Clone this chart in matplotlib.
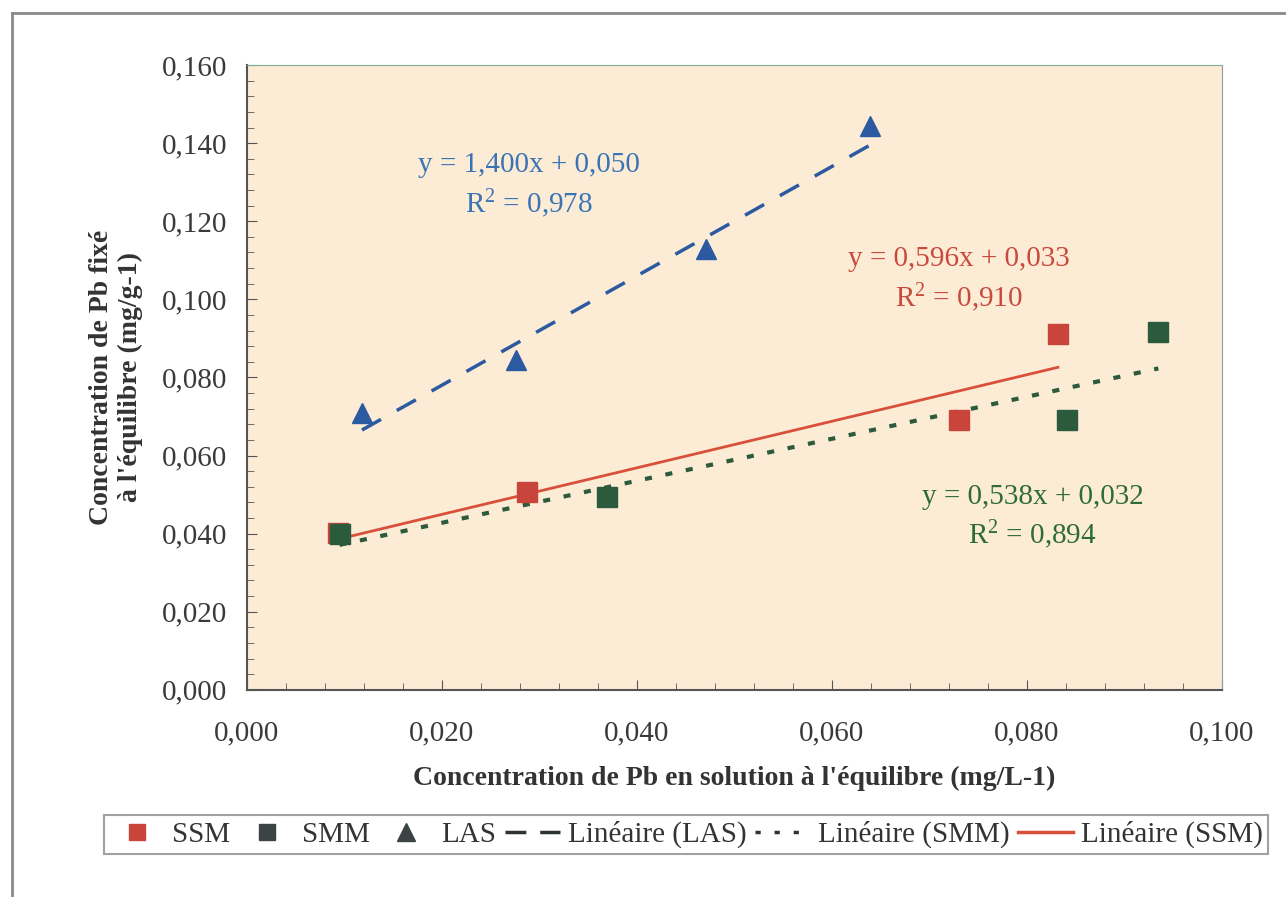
#!/usr/bin/env python
# Pb adsorption isotherms with linear trendlines
import numpy as np
import matplotlib.pyplot as plt
from matplotlib.lines import Line2D
from matplotlib.ticker import MultipleLocator, FuncFormatter

plt.rcParams['font.family'] = ['Liberation Serif', 'DejaVu Serif']
plt.rcParams['mathtext.fontset'] = 'custom'
plt.rcParams['mathtext.rm'] = 'Liberation Serif'
plt.rcParams['mathtext.it'] = 'Liberation Serif'

# data
ssm_x = [0.0093, 0.0287, 0.0730, 0.0832]
ssm_y = [0.0402, 0.0506, 0.0692, 0.0912]
smm_x = [0.0095, 0.0369, 0.0841, 0.0935]
smm_y = [0.0398, 0.0494, 0.0692, 0.0916]
las_x = [0.0118, 0.0276, 0.0471, 0.0639]
las_y = [0.0708, 0.0845, 0.1130, 0.1445]

# trendline coefficients (slope, intercept) as printed
ssm_fit = (0.596, 0.033)
smm_fit = (0.538, 0.032)
las_fit = (1.400, 0.050)

red = '#C9443A'
green = '#2B5A3C'
blue = '#2C5AA0'

fig = plt.figure(figsize=(12.86, 8.97), dpi=100)
ax = fig.add_axes([0.192, 0.231, 0.758, 0.6965])
ax.set_facecolor('#FCECD6')

def trend(xs, fit):
    x = np.array([min(xs), max(xs)])
    return x, fit[0] * x + fit[1]

x, y = trend(las_x, las_fit)
ax.plot(x, y, color=blue, lw=2.5, dashes=(6.3, 5.2), zorder=2)
x, y = trend(smm_x, smm_fit)
ax.plot(x, y, color=green, lw=3, dashes=(1.7, 3.3), zorder=2)
x, y = trend(ssm_x, ssm_fit)
ax.plot(x, y, color='#D9503A', lw=2, zorder=2)

ax.plot(ssm_x, ssm_y, 's', color=red, ms=14, zorder=3)
ax.plot(smm_x, smm_y, 's', color=green, ms=14, zorder=3)
ax.plot(las_x, las_y, '^', color=blue, ms=14, zorder=3)

ax.set_xlim(0, 0.100)
ax.set_ylim(0, 0.160)
ax.xaxis.set_major_locator(MultipleLocator(0.020))
ax.xaxis.set_minor_locator(MultipleLocator(0.004))
ax.yaxis.set_major_locator(MultipleLocator(0.020))
ax.yaxis.set_minor_locator(MultipleLocator(0.004))
fmt = FuncFormatter(lambda v, p: ('%.3f' % v).replace('.', ','))
ax.xaxis.set_major_formatter(fmt)
ax.yaxis.set_major_formatter(fmt)
ax.tick_params(which='both', direction='in', labelsize=21, labelcolor='#3a3a3a', color='#555555')
ax.tick_params(which='major', length=7)
ax.tick_params(which='minor', length=5)
ax.tick_params(axis='x', pad=22)
ax.tick_params(axis='y', pad=14)
for s in ['left', 'bottom']:
    ax.spines[s].set_color('#555555')
    ax.spines[s].set_linewidth(1.5)
ax.spines['top'].set_color('#7fae9a')
ax.spines['right'].set_color('#9a9a9a')

ax.set_xlabel("Concentration de Pb en solution à l'équilibre (mg/L-1)",
              fontsize=20, fontweight='bold', color='#333333', labelpad=14)
ax.set_ylabel("Concentration de Pb fixé\nà l'équilibre (mg/g-1)",
              fontsize=20, fontweight='bold', color='#333333', labelpad=14)

ax.text(0.0289, 0.1291, 'y = 1,400x + 0,050\nR$^2$ = 0,978', color='#3B74B4',
        fontsize=21, ha='center', va='center', linespacing=1.35)
ax.text(0.0730, 0.1049, 'y = 0,596x + 0,033\nR$^2$ = 0,910', color='#C94A3C',
        fontsize=21, ha='center', va='center', linespacing=1.35)
ax.text(0.0806, 0.0441, 'y = 0,538x + 0,032\nR$^2$ = 0,894', color='#2E6B3A',
        fontsize=21, ha='center', va='center', linespacing=1.35)

handles = [
    Line2D([], [], ls='', marker='s', color=red, ms=12),
    Line2D([], [], ls='', marker='s', color='#3b4442', ms=12),
    Line2D([], [], ls='', marker='^', color='#3b4442', ms=13),
    Line2D([], [], color='#2e3436', lw=2.5, dashes=(6, 4)),
    Line2D([], [], color='#2e3436', lw=2.5, dashes=(1.5, 4)),
    Line2D([], [], color='#D9503A', lw=2.5),
]
labels = ['SSM', 'SMM', 'LAS', 'Linéaire (LAS)', 'Linéaire (SMM)', 'Linéaire (SSM)']
leg = fig.legend(handles, labels, ncol=6, loc='center', bbox_to_anchor=(0.5335, 0.0697),
                 fontsize=21, frameon=True, fancybox=False, edgecolor='#8a8a8a',
                 handlelength=1.9, handletextpad=0.25, columnspacing=0.3,
                 borderpad=0.2, borderaxespad=0.1, labelcolor='#333333')
leg.get_frame().set_linewidth(1.5)

# outer chart frame
fig.add_artist(Line2D([12 / 1286, 1], [1 - 13 / 897, 1 - 13 / 897], color='#8a8a8a', lw=2,
                      transform=fig.transFigure))
fig.add_artist(Line2D([12 / 1286, 12 / 1286], [0, 1 - 13 / 897], color='#8a8a8a', lw=2,
                      transform=fig.transFigure))

fig.savefig('out.png', dpi=100)
